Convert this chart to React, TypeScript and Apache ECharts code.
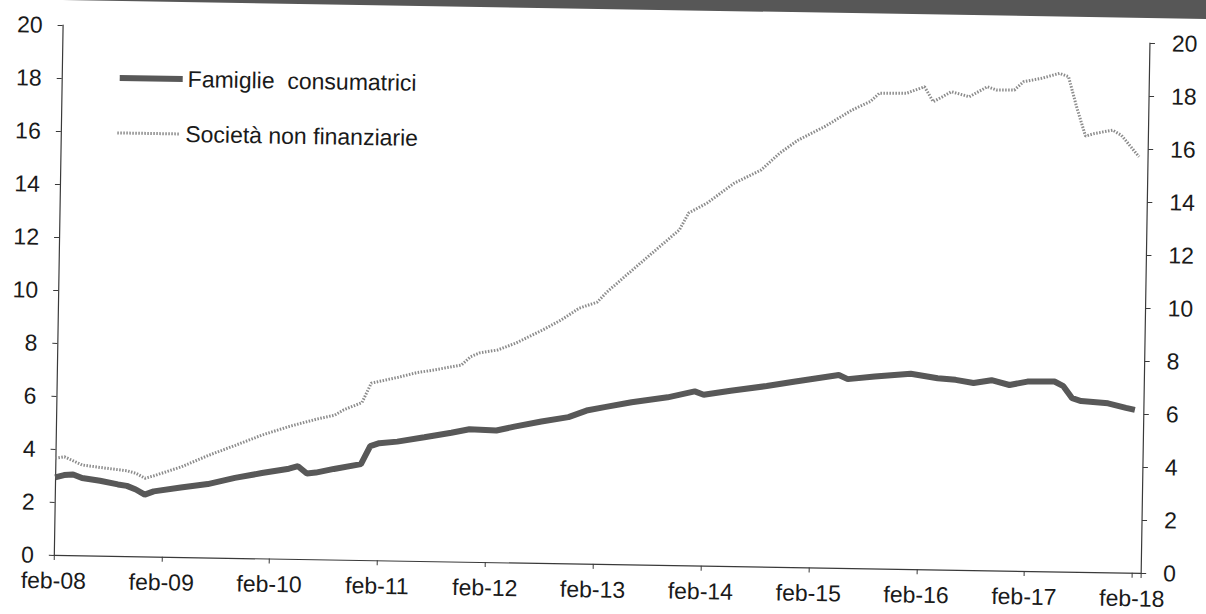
import React, { useEffect, useRef } from 'react';
import * as echarts from 'echarts';

const tickLabels = ['feb-08', 'feb-09', 'feb-10', 'feb-11', 'feb-12', 'feb-13', 'feb-14', 'feb-15', 'feb-16', 'feb-17', 'feb-18'];
const yTicks = [0, 2, 4, 6, 8, 10, 12, 14, 16, 18, 20];
const seriesNames = ['Famiglie  consumatrici', 'Società non finanziarie'];

// months counted from feb-08 (0) to feb-18 (120)
const famMonths = [0, 1, 2, 3, 5, 7, 8, 9, 10, 11, 14, 17, 20, 23, 26, 27, 28, 29, 31, 34, 35, 36, 38, 41, 44, 46, 49, 51, 54, 57, 59, 61, 64, 68, 71, 72, 75, 79, 82, 87, 88, 91, 95, 98, 100, 102, 104, 106, 108, 111, 112, 113, 114, 117, 119, 120];
const famValues = [2.93, 3.02, 3.05, 2.92, 2.83, 2.7, 2.65, 2.52, 2.33, 2.46, 2.62, 2.77, 3.02, 3.22, 3.4, 3.5, 3.23, 3.27, 3.42, 3.62, 4.3, 4.42, 4.49, 4.67, 4.86, 5.0, 4.97, 5.13, 5.34, 5.52, 5.78, 5.92, 6.12, 6.33, 6.57, 6.45, 6.62, 6.82, 7.0, 7.28, 7.13, 7.25, 7.37, 7.22, 7.17, 7.06, 7.18, 7.01, 7.15, 7.17, 7.0, 6.55, 6.45, 6.38, 6.22, 6.15];

const socMonths = [0, 1, 3, 5, 8, 9, 10, 11, 14, 17, 20, 23, 26, 29, 31, 32, 34, 35, 38, 40, 42, 45, 46, 47, 49, 51, 54, 56, 58, 60, 61, 63, 66, 69, 70, 72, 75, 78, 80, 82, 85, 88, 90, 91, 94, 96, 97, 98, 99, 101, 103, 104, 106, 107, 109, 111, 112, 113, 114, 115, 117, 118, 119, 120];
const socValues = [3.65, 3.71, 3.41, 3.33, 3.22, 3.13, 2.95, 3.05, 3.4, 3.85, 4.25, 4.66, 5.0, 5.29, 5.45, 5.66, 5.94, 6.68, 6.92, 7.1, 7.22, 7.42, 7.74, 7.89, 8.01, 8.28, 8.8, 9.18, 9.64, 9.88, 10.25, 10.86, 11.76, 12.66, 13.3, 13.68, 14.45, 14.97, 15.61, 16.11, 16.65, 17.29, 17.62, 17.94, 17.95, 18.21, 17.65, 17.84, 18.04, 17.86, 18.25, 18.13, 18.14, 18.46, 18.6, 18.8, 18.68, 17.5, 16.45, 16.55, 16.69, 16.5, 16.1, 15.7];

const FONT = "'Liberation Sans', Arial, sans-serif";
const TEXT = '#1a1a1a';
const AXIS = '#3a3a3a';
const FAM_COLOR = '#585858';
const SOC_COLOR = '#8c8c8c';
const SOC_DASH = [1.5, 1.5];

export default function App() {
  const ref = useRef<HTMLDivElement>(null);
  useEffect(() => {
    const chart = echarts.init(ref.current!, null, { renderer: 'svg' });
    const yAxisBase = {
      type: 'value',
      min: yTicks[0],
      max: yTicks[yTicks.length - 1],
      interval: 2,
      axisLine: { show: true, lineStyle: { color: AXIS, width: 1.2 } },
      axisTick: { show: true, length: 5, lineStyle: { color: AXIS } },
      splitLine: { show: false },
    };
    const legendBase = {
      left: 143,
      orient: 'vertical',
      itemWidth: 63,
      itemHeight: 26,
      padding: 0,
      selectedMode: false,
      itemStyle: { opacity: 0 },
      textStyle: { fontSize: 23, color: TEXT, fontFamily: FONT },
    };
    chart.setOption({
      animation: false,
      textStyle: { fontFamily: FONT },
      graphic: [
        {
          type: 'rect',
          silent: true,
          z: -10,
          shape: { x: 0, y: 0, width: 1266, height: 39 },
          style: { fill: '#575757' },
        },
      ],
      grid: { left: 88, right: 90.5, top: 64, bottom: 80 },
      legend: [
        {
          ...legendBase,
          data: [seriesNames[0]],
          top: 104.5,
          lineStyle: { width: 6, color: FAM_COLOR },
        },
        {
          ...legendBase,
          data: [seriesNames[1]],
          top: 159.5,
          lineStyle: { width: 3, color: SOC_COLOR, type: SOC_DASH },
        },
      ],
      xAxis: {
        type: 'value',
        min: 0,
        max: 121,
        interval: 12,
        axisLine: { lineStyle: { color: AXIS, width: 1.2 } },
        axisTick: { length: 5, lineStyle: { color: AXIS } },
        splitLine: { show: false },
        axisLabel: {
          fontSize: 23,
          color: TEXT,
          margin: 14,
          fontFamily: FONT,
          formatter: (v: number) => (v % 12 === 0 ? tickLabels[v / 12] ?? '' : ''),
        },
      },
      yAxis: [
        {
          ...yAxisBase,
          position: 'left',
          axisLabel: { fontSize: 23, color: TEXT, margin: 20, fontFamily: FONT },
        },
        {
          ...yAxisBase,
          position: 'right',
          axisLabel: { fontSize: 23, color: TEXT, margin: 22, fontFamily: FONT },
        },
      ],
      series: [
        {
          name: seriesNames[0],
          type: 'line',
          data: famMonths.map((m, i) => [m, famValues[i]]),
          symbol: 'none',
          lineStyle: { color: FAM_COLOR, width: 6 },
          itemStyle: { color: FAM_COLOR },
          z: 3,
        },
        {
          name: seriesNames[1],
          type: 'line',
          data: socMonths.map((m, i) => [m, socValues[i]]),
          symbol: 'none',
          lineStyle: { color: SOC_COLOR, width: 3, type: SOC_DASH },
          itemStyle: { color: SOC_COLOR },
          z: 2,
        },
      ],
    });
    return () => chart.dispose();
  }, []);
  return (
    <div style={{ position: 'fixed', left: 0, top: 0, width: 1206, height: 614, overflow: 'hidden', background: '#fff' }}>
      <div
        ref={ref}
        style={{
          position: 'absolute',
          left: -30,
          top: -30,
          width: 1266,
          height: 674,
          transform: 'rotate(0.95deg)',
          transformOrigin: '50% 50%',
        }}
      />
    </div>
  );
}
